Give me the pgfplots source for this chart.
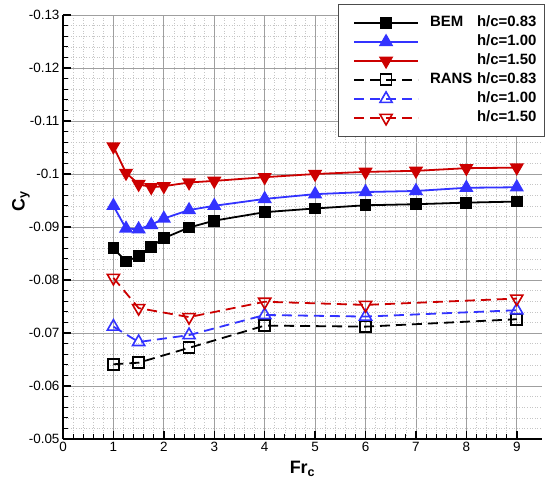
\documentclass[border=0pt]{standalone}
\usepackage{fontspec}
\setmainfont{Liberation Sans}
\usepackage{pgfplots}
\pgfplotsset{compat=1.18}
\definecolor{myblue}{RGB}{51,51,255}
\definecolor{myred}{RGB}{204,0,0}
\begin{document}
\begin{tikzpicture}
\begin{axis}[
  at={(0,0)}, anchor=south west,
  scale only axis, width=479bp, height=424bp,
  xmin=0, xmax=9.5, ymin=-0.13, ymax=-0.05,
  y dir=reverse,
  axis x line*=bottom, axis y line*=left,
  axis line style={line width=2.2bp, black},
  xtick={0,1,...,9},
  ytick={-0.13,-0.12,...,-0.05},
  minor x tick num=4, minor y tick num=4,
  tick align=inside,
  major tick length=8bp, minor tick length=5bp,
  major tick style={line width=1.5bp, black},
  minor tick style={line width=0.8bp, black},
  grid=both,
  major grid style={gray!75, line width=0.8bp, solid},
  minor grid style={gray!45, line width=0.6bp, dotted},
  /pgf/number format/assume math mode=true,
  /pgf/number format/fixed, /pgf/number format/precision=2,
  tick label style={font=\fontsize{13.5}{13.5}\selectfont},
  xlabel={\textbf{Fr}\textsubscript{\textbf{c}}},
  ylabel={\textbf{C}\textsubscript{\textbf{y}}},
  label style={font=\fontsize{18}{18}\selectfont},
  x label style={at={(rel axis cs:0.5,-0.052)}, anchor=north, inner sep=0pt},
  y label style={at={(rel axis cs:-0.088,0.56)}, anchor=center, inner sep=0pt},
  legend image code/.code={
    \path[draw=none, fill=none] (-10bp,0bp) -- (74bp,0bp);
    \draw[mark repeat=2,mark phase=2,#1] plot coordinates {(0bp,0bp) (32bp,0bp) (64bp,0bp)};
  },
  legend cell align=left,
  legend style={
    at={(rel axis cs:1.006,1.026)}, anchor=north east,
    draw=black!70, line width=0.8bp, fill=white,
    font=\bfseries\fontsize{15}{15}\selectfont,
    inner xsep=6bp, inner ysep=9bp,
    row sep=0bp,
    nodes={inner ysep=2bp, text height=11bp, text depth=4bp},
  },
]
\addplot[black, line width=1.8bp, mark=square*, mark size=5bp, mark options={solid}] coordinates {
(1,-0.0860) (1.25,-0.0835) (1.5,-0.0845) (1.75,-0.0863) (2,-0.0879) (2.5,-0.0899) (3,-0.0912)
(4,-0.0928) (5,-0.0935) (6,-0.0941) (7,-0.0943) (8,-0.0946) (9,-0.0948)};
\addlegendentry{\makebox[47bp][l]{BEM}h/c=0.83}
\addplot[myblue, line width=1.8bp, mark=triangle*, mark size=6.5bp, mark options={solid}] coordinates {
(1,-0.0940) (1.25,-0.0897) (1.5,-0.0896) (1.75,-0.0904) (2,-0.0916) (2.5,-0.0932) (3,-0.0940)
(4,-0.0953) (5,-0.0962) (6,-0.0966) (7,-0.0968) (8,-0.0974) (9,-0.0975)};
\addlegendentry{\makebox[47bp][l]{}h/c=1.00}
\addplot[myred, line width=1.8bp, mark=triangle*, mark size=6.5bp, mark options={solid, rotate=180}] coordinates {
(1,-0.1052) (1.25,-0.1002) (1.5,-0.0981) (1.75,-0.0975) (2,-0.0977) (2.5,-0.0984) (3,-0.0987)
(4,-0.0994) (5,-0.1000) (6,-0.1004) (7,-0.1006) (8,-0.1011) (9,-0.1012)};
\addlegendentry{\makebox[47bp][l]{}h/c=1.50}
\addplot[black, line width=1.8bp, dash pattern=on 10bp off 6bp, mark=square, mark size=5.5bp, mark options={solid, line width=1.8bp}] coordinates {
(1,-0.0641) (1.5,-0.0644) (2.5,-0.0672) (4,-0.0714) (6,-0.0712) (9,-0.0726)};
\addlegendentry{\makebox[47bp][l]{RANS}h/c=0.83}
\addplot[myblue, line width=1.8bp, dash pattern=on 10bp off 6bp, mark=triangle, mark size=7bp, mark options={solid, line width=1.6bp}] coordinates {
(1,-0.0712) (1.5,-0.0683) (2.5,-0.0696) (4,-0.0734) (6,-0.0731) (9,-0.0743)};
\addlegendentry{\makebox[47bp][l]{}h/c=1.00}
\addplot[myred, line width=1.8bp, dash pattern=on 10bp off 6bp, mark=triangle, mark size=7bp, mark options={solid, line width=1.6bp, rotate=180}] coordinates {
(1,-0.0804) (1.5,-0.0747) (2.5,-0.0730) (4,-0.0759) (6,-0.0753) (9,-0.0765)};
\addlegendentry{\makebox[47bp][l]{}h/c=1.50}
\end{axis}
\pgfresetboundingbox
\path (-63bp,-47bp) rectangle (484bp,439bp);
\end{tikzpicture}
\end{document}
